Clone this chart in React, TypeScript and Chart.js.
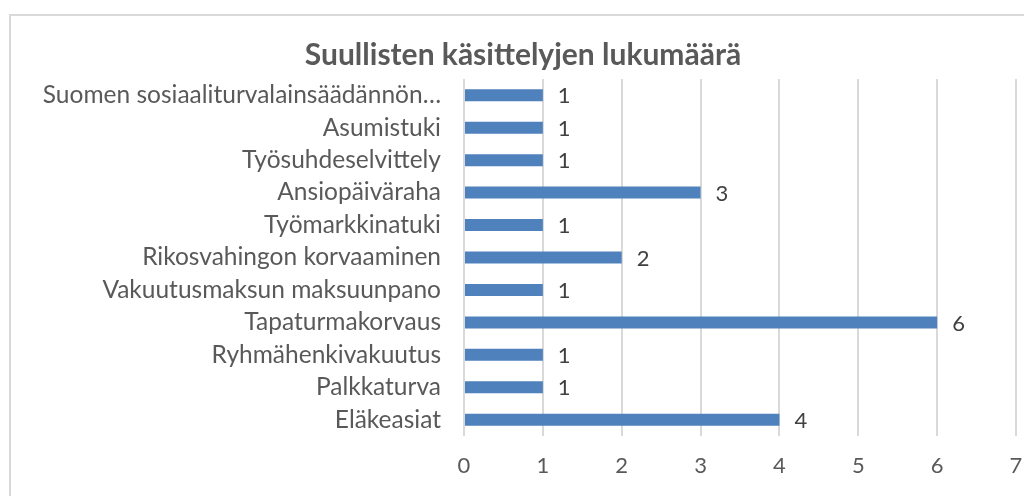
import React, { useEffect, useRef } from "react";
import { Chart, registerables } from "chart.js";

Chart.register(...registerables);

const title = "Suullisten käsittelyjen lukumäärä";
const categories = [
  "Suomen sosiaaliturvalainsäädännön…",
  "Asumistuki",
  "Työsuhdeselvittely",
  "Ansiopäiväraha",
  "Työmarkkinatuki",
  "Rikosvahingon korvaaminen",
  "Vakuutusmaksun maksuunpano",
  "Tapaturmakorvaus",
  "Ryhmähenkivakuutus",
  "Palkkaturva",
  "Eläkeasiat",
];
const values = [1, 1, 1, 3, 1, 2, 1, 6, 1, 1, 4];
const xMin = 0;
const xMax = 7;

const FONT = "Lato, 'Open Sans', sans-serif";

const decorPlugin = {
  id: "decor",
  beforeDraw(chart: any) {
    const ctx = chart.ctx;
    ctx.save();
    ctx.fillStyle = "#ffffff";
    ctx.fillRect(0, 0, chart.width, chart.height);
    ctx.strokeStyle = "#d9d9d9";
    ctx.lineWidth = 2;
    ctx.beginPath();
    ctx.moveTo(10, chart.height + 5);
    ctx.lineTo(10, 15);
    ctx.lineTo(chart.width + 5, 15);
    ctx.stroke();
    ctx.fillStyle = "#595959";
    ctx.font = `bold 30px ${FONT}`;
    ctx.textAlign = "center";
    ctx.textBaseline = "middle";
    ctx.fillText(title, 523, 55);
    ctx.restore();
  },
  afterDatasetsDraw(chart: any) {
    const ctx = chart.ctx;
    const meta = chart.getDatasetMeta(0);
    ctx.save();
    ctx.fillStyle = "#404040";
    ctx.font = `22px ${FONT}`;
    ctx.textAlign = "left";
    ctx.textBaseline = "middle";
    meta.data.forEach((bar: any, i: number) => {
      ctx.fillText(String(values[i]), bar.x + 15, bar.y + 1);
    });
    ctx.restore();
  },
};

export default function App() {
  const ref = useRef<HTMLCanvasElement | null>(null);
  useEffect(() => {
    document.body.style.margin = "0";
    const chart = new Chart(ref.current as HTMLCanvasElement, {
      type: "bar",
      data: {
        labels: categories,
        datasets: [
          {
            data: values,
            backgroundColor: "#4F81BD",
            borderWidth: 0,
            barPercentage: 0.37,
            categoryPercentage: 1,
          },
        ],
      },
      options: {
        indexAxis: "y",
        animation: false,
        responsive: false,
        maintainAspectRatio: false,
        layout: { padding: { top: 79, right: 8, left: 0, bottom: 0 } },
        plugins: {
          legend: { display: false },
          title: { display: false },
          tooltip: { enabled: false },
        },
        scales: {
          x: {
            min: xMin,
            max: xMax,
            ticks: {
              stepSize: 1,
              color: "#595959",
              font: { family: FONT, size: 22 },
              padding: 17,
              maxRotation: 0,
            },
            grid: { color: "#d9d9d9", lineWidth: 2, drawTicks: false },
            border: { display: false },
            afterFit(scale: any) {
              scale.height = 60;
              scale.paddingLeft = 0;
              scale.paddingRight = 0;
            },
          },
          y: {
            ticks: {
              color: "#595959",
              font: { family: FONT, size: 24.5 },
              padding: 23,
              autoSkip: false,
            },
            grid: { display: false, drawTicks: false },
            border: { display: false },
            afterFit(scale: any) {
              scale.width = 464;
              scale.paddingTop = 0;
              scale.paddingBottom = 0;
            },
          },
        },
      },
      plugins: [decorPlugin],
    });
    return () => chart.destroy();
  }, []);
  return (
    <div style={{ width: 1024, height: 496 }}>
      <canvas ref={ref} width={1024} height={496} style={{ display: "block" }} />
    </div>
  );
}
